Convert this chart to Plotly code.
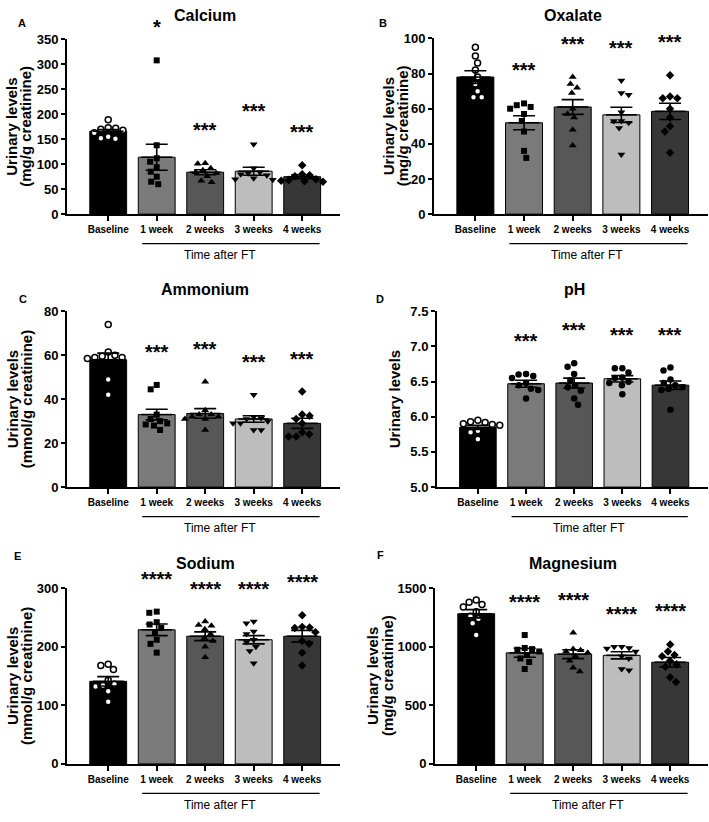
import math
import plotly.graph_objects as go

W, H = 709, 822
FONT = "Liberation Sans, Arial, sans-serif"

groups = ["Baseline", "1 week", "2 weeks", "3 weeks", "4 weeks"]
bar_colors = ["#000000", "#7a7a7a", "#575757", "#bdbdbd", "#373737"]
symbols_default = ["circle", "square", "triangle-up", "triangle-down", "diamond"]
symbols_ph = ["circle", "circle", "circle", "circle", "circle"]

# ---------------- data ----------------
calcium_points = [
    [189, 173, 172, 170, 168, 163, 155, 151, 152],
    [308, 138, 112, 105, 94, 85, 75, 65, 60],
    [102, 101, 92, 88, 84, 82, 76, 67, 64],
    [140, 92, 84, 82, 80, 78, 72, 70, 69],
    [98, 80, 78, 76, 70, 68, 67, 66, 65],
]
calcium_mean = [166, 114, 84, 86, 75]
calcium_sem = [3.5, 26, 5, 8, 4]
calcium_sig = ["", "*", "***", "***", "***"]

oxalate_points = [
    [95, 90, 86, 82, 78, 74, 70, 66.5, 66.5],
    [63, 62, 61, 60, 57, 53, 47, 36, 32],
    [78, 74, 72, 69, 60, 57, 55, 48, 39],
    [76, 69, 68, 58, 53, 53, 52, 49, 34],
    [79, 67, 66, 66, 60, 55, 50, 47, 35],
]
oxalate_mean = [78, 52, 61, 56.5, 58.5]
oxalate_sem = [3.6, 4, 4.2, 4.3, 4.6]
oxalate_sig = ["", "***", "***", "***", "***"]

ammonium_points = [
    [74, 61.5, 60, 59.5, 59, 59, 58.5, 49, 42],
    [46.5, 44.5, 33, 31, 30, 29, 28.5, 28, 26],
    [48, 35, 33, 33, 32, 32, 31, 31, 26],
    [42, 32, 31.5, 31, 30, 29, 29, 26, 26],
    [43.5, 33, 32.5, 31, 29, 25, 24, 23, 23],
]
ammonium_mean = [58, 33, 33.5, 31, 29]
ammonium_sem = [3, 2.4, 2.2, 1.5, 2.3]
ammonium_sig = ["", "***", "***", "***", "***"]

ph_points = [
    [5.95, 5.93, 5.92, 5.90, 5.89, 5.88, 5.80, 5.78, 5.68],
    [6.61, 6.60, 6.58, 6.55, 6.48, 6.45, 6.40, 6.38, 6.26],
    [6.76, 6.71, 6.61, 6.52, 6.44, 6.42, 6.37, 6.26, 6.17],
    [6.69, 6.69, 6.63, 6.56, 6.55, 6.50, 6.48, 6.45, 6.32],
    [6.70, 6.66, 6.53, 6.48, 6.45, 6.42, 6.40, 6.38, 6.10],
]
ph_mean = [5.85, 6.47, 6.48, 6.54, 6.45]
ph_sem = [0.03, 0.05, 0.07, 0.045, 0.06]
ph_sig = ["", "***", "***", "***", "***"]

sodium_points = [
    [170, 168, 161, 143, 136, 134, 132, 124, 106],
    [260, 258, 242, 238, 232, 225, 212, 205, 190],
    [243, 237, 236, 230, 222, 215, 210, 200, 182],
    [243, 240, 226, 222, 212, 208, 200, 193, 172],
    [254, 234, 233, 232, 225, 210, 205, 190, 168],
]
sodium_mean = [141, 229, 218, 212, 218]
sodium_sem = [8, 10, 7.5, 7, 10]
sodium_sig = ["", "****", "****", "****", "****"]

magnesium_points = [
    [1400, 1380, 1360, 1340, 1300, 1260, 1240, 1200, 1100],
    [1100, 990, 980, 975, 960, 930, 900, 870, 810],
    [1120, 980, 970, 960, 950, 920, 880, 820, 790],
    [1000, 1000, 990, 985, 960, 920, 900, 810, 800],
    [1020, 960, 930, 920, 880, 850, 830, 740, 700],
]
magnesium_mean = [1282, 948, 937, 927, 868]
magnesium_sem = [35, 38, 38, 30, 40]
magnesium_sig = ["", "****", "****", "****", "****"]

panels = [
    dict(letter="A", title="Calcium", ylab=["Urinary levels", "(mg/g creatinine)"],
         pts=calcium_points, mean=calcium_mean, sem=calcium_sem, sig=calcium_sig,
         sym=symbols_default, yr=[0, 350], dtick=50, fmt="",
         box=(67, 340, 211, 33), ylx=(12, 26), title_y=9, letter_xy=(22, 16)),
    dict(letter="B", title="Oxalate", ylab=["Urinary levels", "(mg/g creatinine)"],
         pts=oxalate_points, mean=oxalate_mean, sem=oxalate_sem, sig=oxalate_sig,
         sym=symbols_default, yr=[0, 100], dtick=20, fmt="",
         box=(434, 708, 211, 32), ylx=(388, 402), title_y=9, letter_xy=(383, 16)),
    dict(letter="C", title="Ammonium", ylab=["Urinary levels", "(mmol/g creatinine)"],
         pts=ammonium_points, mean=ammonium_mean, sem=ammonium_sem, sig=ammonium_sig,
         sym=symbols_default, yr=[0, 80], dtick=20, fmt="",
         box=(67, 340, 489, 310), ylx=(12, 26), title_y=288, letter_xy=(23, 297)),
    dict(letter="D", title="pH", ylab=["Urinary levels"],
         pts=ph_points, mean=ph_mean, sem=ph_sem, sig=ph_sig,
         sym=symbols_ph, yr=[5.0, 7.5], dtick=0.5, fmt=".1f",
         box=(437, 708, 489, 310), ylx=(394,), title_y=288, letter_xy=(380, 297)),
    dict(letter="E", title="Sodium", ylab=["Urinary levels", "(mmol/g creatinine)"],
         pts=sodium_points, mean=sodium_mean, sem=sodium_sem, sig=sodium_sig,
         sym=symbols_default, yr=[0, 300], dtick=100, fmt="",
         box=(67, 340, 771, 592), ylx=(12, 26), title_y=567, letter_xy=(17, 559)),
    dict(letter="F", title="Magnesium", ylab=["Urinary levels", "(mg/g creatinine)"],
         pts=magnesium_points, mean=magnesium_mean, sem=magnesium_sem, sig=magnesium_sig,
         sym=symbols_default, yr=[0, 1500], dtick=500, fmt="",
         box=(435, 708, 771, 592), ylx=(372, 387), title_y=567, letter_xy=(380, 558)),
]

XR = [-0.85, 4.78]


def swarm(vals, px_per_unit, d=7.5):
    ys = [v * px_per_unit for v in vals]
    order = sorted(range(len(vals)), key=lambda i: -ys[i])
    placed = []
    xs = [0.0] * len(vals)
    for k, i in enumerate(order):
        y = ys[i]
        cands = [0.0]
        for (xj, yj) in placed:
            dy = abs(y - yj)
            if dy < d:
                dx = math.sqrt(d * d - dy * dy)
                cands += [xj + dx + 1e-6, xj - dx - 1e-6]
        ok = [c for c in cands
              if all((c - xj) ** 2 + (y - yj) ** 2 >= d * d - 1e-3 for xj, yj in placed)]
        sgn = 1 if k % 2 == 0 else -1
        best = min(ok, key=lambda c: (round(abs(c), 4), -sgn * c))
        xs[i] = best
        placed.append((best, y))
    return xs


fig = go.Figure()
annotations = []
shapes = []
layout_axes = {}

for k, p in enumerate(panels):
    idx = k + 1
    xname = "x" if idx == 1 else f"x{idx}"
    yname = "y" if idx == 1 else f"y{idx}"
    xa = "xaxis" if idx == 1 else f"xaxis{idx}"
    ya = "yaxis" if idx == 1 else f"yaxis{idx}"
    x0, x1, yb, yt = p["box"]
    y0r, y1r = p["yr"]
    ppu_y = (yb - yt) / (y1r - y0r)
    ppu_x = (x1 - x0) / (XR[1] - XR[0])

    # bars
    fig.add_trace(go.Bar(
        x=list(range(5)), y=[m - y0r for m in p["mean"]], base=y0r,
        width=0.76, marker=dict(color=bar_colors, line=dict(color="black", width=1)),
        xaxis=xname, yaxis=yname, showlegend=False, hoverinfo="skip"))

    # points
    for g in range(5):
        vals = p["pts"][g]
        offs = swarm([v - y0r for v in vals], ppu_y)
        xs = [g + o / ppu_x for o in offs]
        if g == 0:
            mk = dict(symbol="circle", size=6, color="white",
                      line=dict(color="black", width=1.5))
        else:
            sym = p["sym"][g]
            size = {"square": 6, "circle": 6.5, "diamond": 6.5}.get(sym, 7)
            mk = dict(symbol=sym, size=size, color="black", line=dict(width=0))
        fig.add_trace(go.Scatter(
            x=xs, y=vals, mode="markers", marker=mk, cliponaxis=False,
            xaxis=xname, yaxis=yname, showlegend=False, hoverinfo="skip"))

    # mean line + SEM error bars
    fig.add_trace(go.Scatter(
        x=list(range(5)), y=p["mean"], mode="markers",
        marker=dict(symbol="line-ew", size=22, color="black",
                    line=dict(color="black", width=1.6)),
        error_y=dict(type="data", array=p["sem"], symmetric=True,
                     color="black", thickness=1.6, width=11),
        cliponaxis=False, xaxis=xname, yaxis=yname, showlegend=False, hoverinfo="skip"))

    layout_axes[xa] = dict(
        domain=[x0 / W, x1 / W], range=XR, anchor=yname,
        tickmode="array", tickvals=list(range(5)), ticktext=groups,
        showline=True, linecolor="black", linewidth=2,
        ticks="outside", ticklen=5, tickwidth=1.5, tickcolor="black",
        tickfont=dict(family=FONT, size=10, color="black", weight="bold"),
        showgrid=False, zeroline=False, fixedrange=True)
    layout_axes[ya] = dict(
        domain=[1 - yb / H, 1 - yt / H], range=[y0r, y1r], anchor=xname,
        tick0=y0r, dtick=p["dtick"], tickformat=p["fmt"],
        showline=True, linecolor="black", linewidth=2,
        ticks="outside", ticklen=4, tickwidth=2, tickcolor="black",
        tickfont=dict(family=FONT, size=13, color="black", weight="bold"),
        showgrid=False, zeroline=False, fixedrange=True)

    # significance stars
    for g in range(5):
        if p["sig"][g]:
            annotations.append(dict(
                x=g, y=max(p["pts"][g]), xref=xname, yref=yname,
                text=f"<b>{p['sig'][g]}</b>", showarrow=False,
                yanchor="bottom", yshift=20,
                font=dict(family=FONT, size=20, color="black")))

    # panel title
    annotations.append(dict(
        x=2, y=1 - p["title_y"] / H, xref=xname, yref="paper",
        text=f"<b>{p['title']}</b>", showarrow=False, yanchor="middle",
        font=dict(family=FONT, size=16, color="black")))

    # panel letter
    lx, ly = p["letter_xy"]
    annotations.append(dict(
        x=lx / W, y=1 - ly / H, xref="paper", yref="paper",
        text=f"<b>{p['letter']}</b>", showarrow=False,
        xanchor="center", yanchor="middle",
        font=dict(family=FONT, size=11, color="black")))

    # y-axis title lines
    yc = 1 - ((yb + yt) / 2) / H
    for line_text, lxp in zip(p["ylab"], p["ylx"]):
        annotations.append(dict(
            x=lxp / W, y=yc, xref="paper", yref="paper",
            text=f"<b>{line_text}</b>", showarrow=False, textangle=-90,
            xanchor="center", yanchor="middle",
            font=dict(family=FONT, size=15, color="black")))

    # "Time after FT" bracket line and label
    line_y = 1 - (yb + 30) / H
    shapes.append(dict(type="line", xref=xname, yref="paper",
                       x0=0.70, x1=4.36, y0=line_y, y1=line_y,
                       line=dict(color="black", width=1.3)))
    annotations.append(dict(
        x=2.3, y=1 - (yb + 42) / H, xref=xname, yref="paper",
        text="Time after FT", showarrow=False, yanchor="middle",
        font=dict(family=FONT, size=12, color="black")))

fig.update_layout(
    width=W, height=H, margin=dict(l=0, r=0, t=0, b=0),
    paper_bgcolor="white", plot_bgcolor="white",
    showlegend=False, bargap=0.24,
    annotations=annotations, shapes=shapes,
    font=dict(family=FONT, color="black"),
    **layout_axes)

fig.write_html("out.html", config={"displayModeBar": False},
               post_script="document.body.style.margin='0';document.body.style.overflow='hidden';")
